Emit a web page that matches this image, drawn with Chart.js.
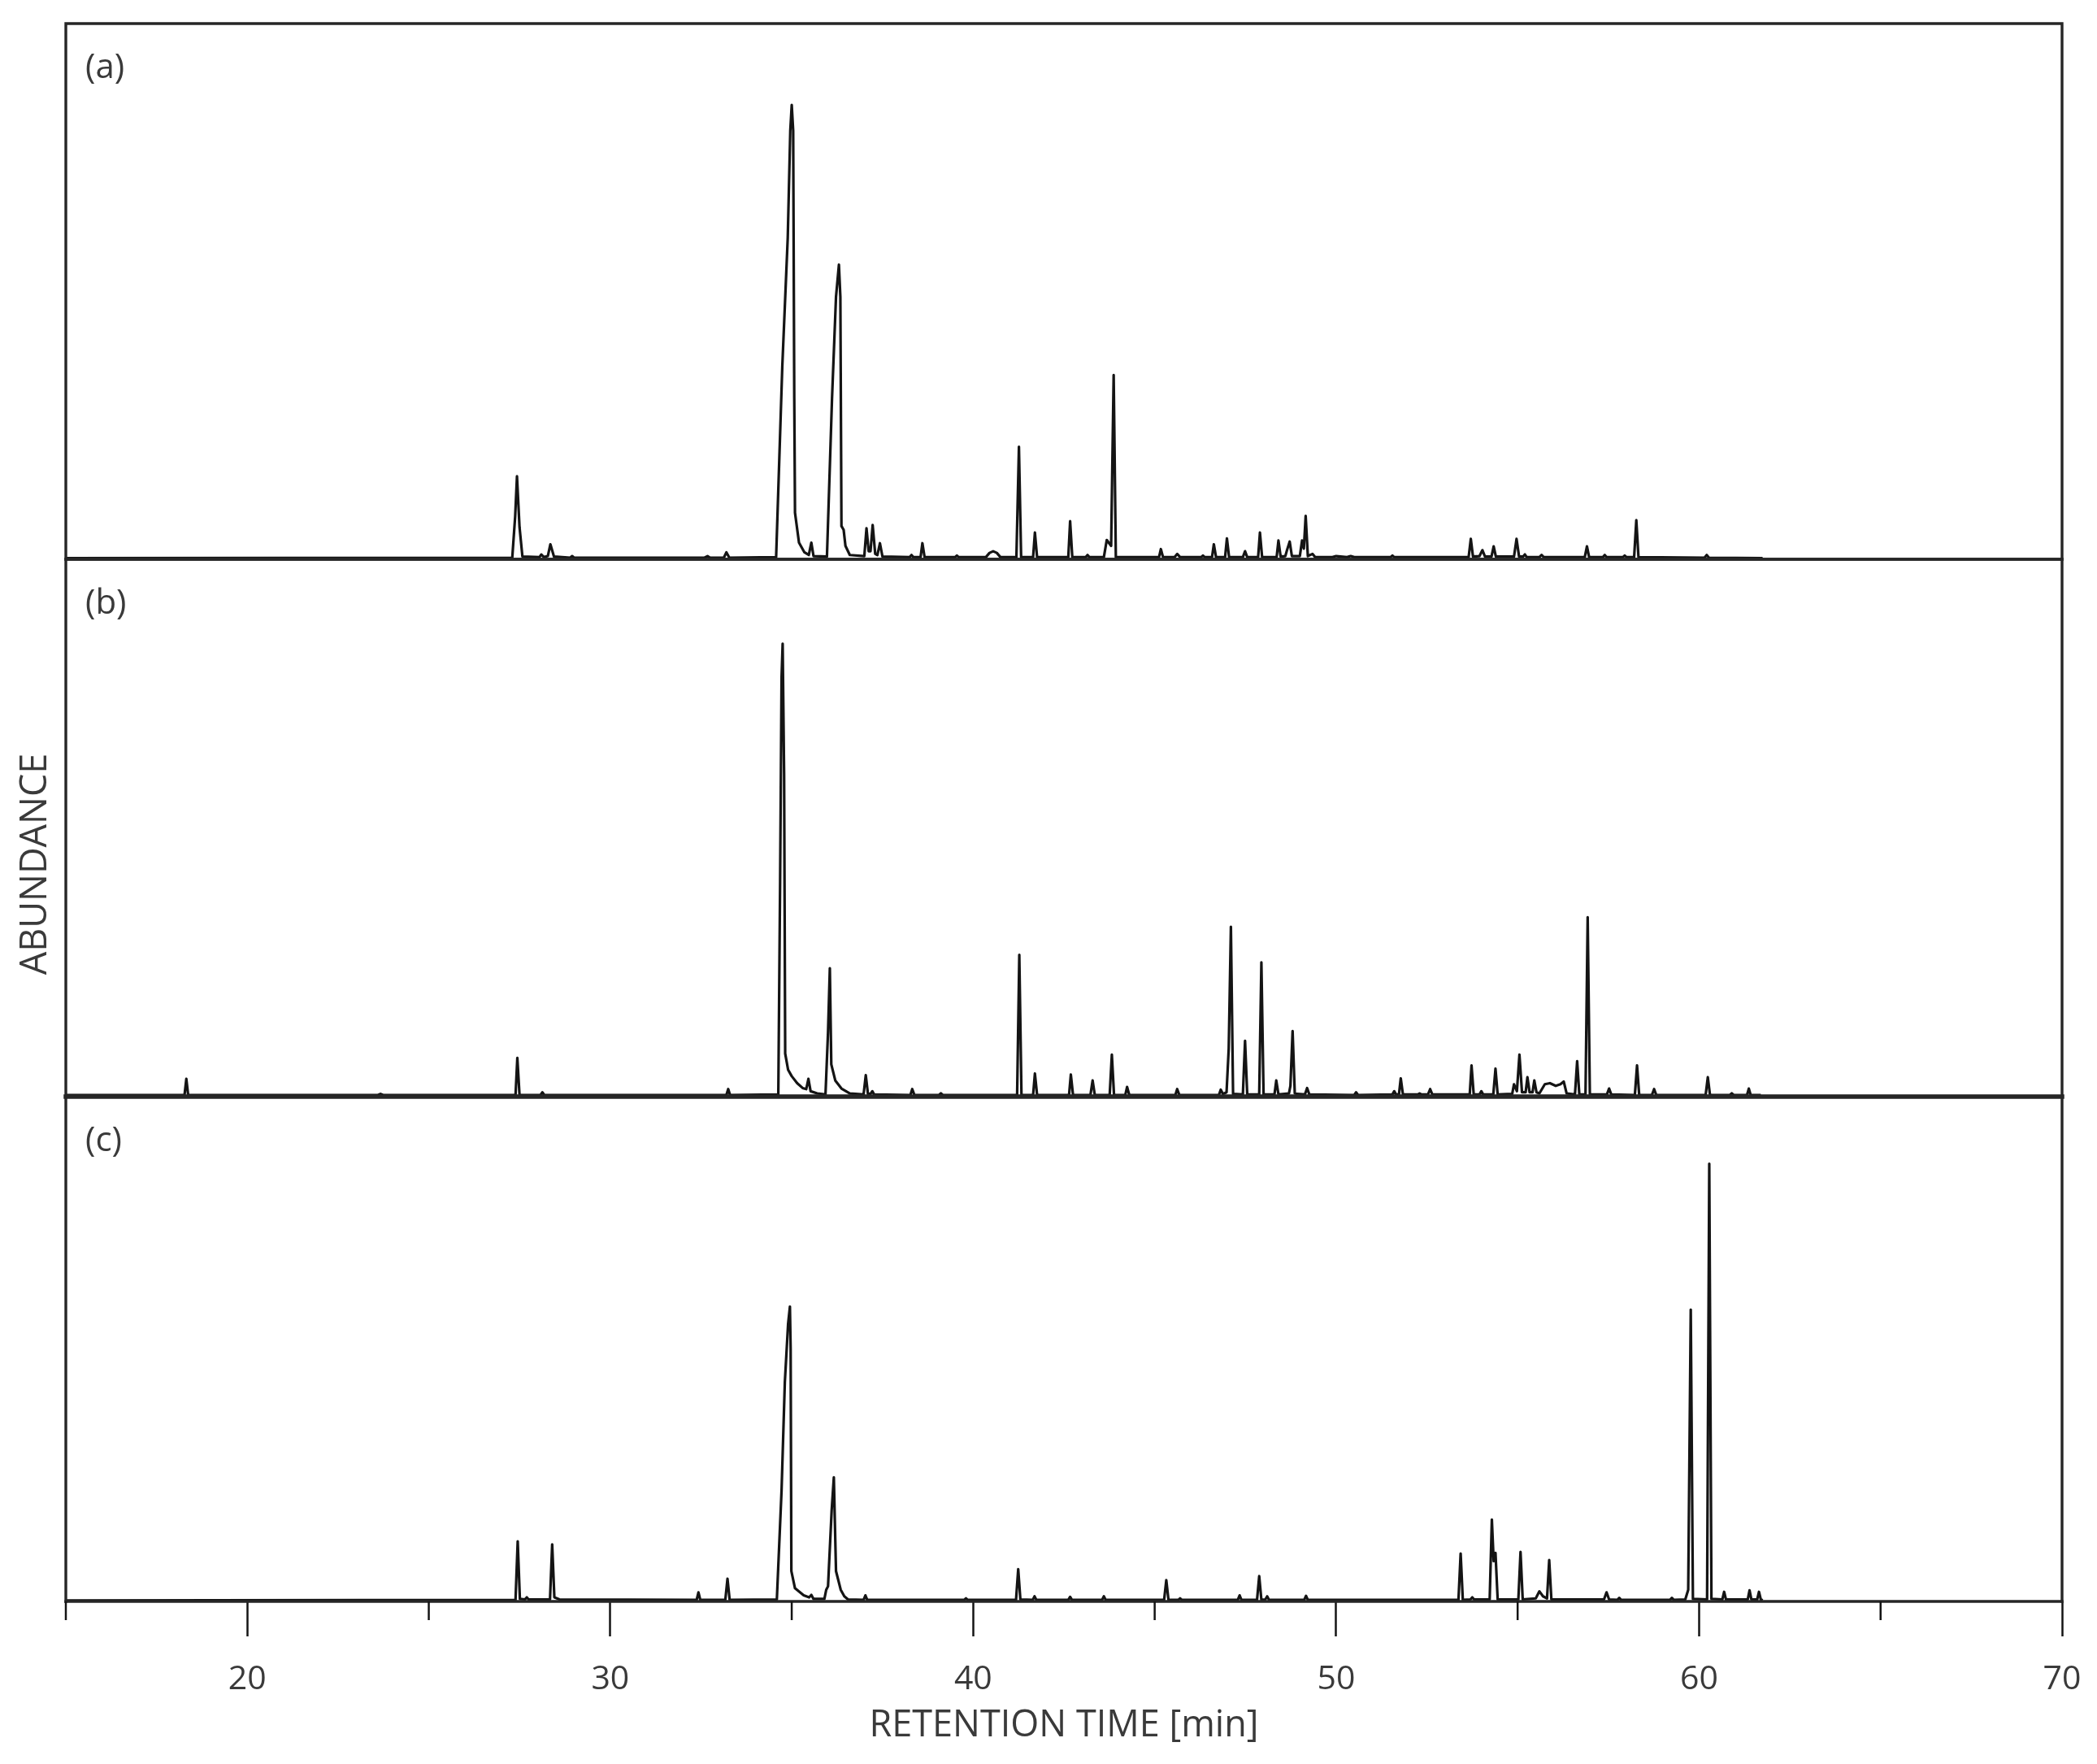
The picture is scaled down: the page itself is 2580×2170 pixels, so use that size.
<!DOCTYPE html>
<html>
<head>
<meta charset="utf-8">
<title>Chromatograms (a) (b) (c)</title>
<script src="https://cdn.jsdelivr.net/npm/chart.js@4.4.1/dist/chart.umd.min.js"></script>
<style>
  html, body { margin: 0; padding: 0; background: #fff; }
  #wrap { position: relative; width: 2580px; height: 2170px; }
  #wrap canvas { position: absolute; left: 0; top: 0; }
</style>
</head>
<body>
<div id="wrap">
  <canvas id="chartA" width="2580" height="2170"></canvas>
  <canvas id="chartB" width="2580" height="2170"></canvas>
  <canvas id="chartC" width="2580" height="2170"></canvas>
</div>
<script>
// Retention time [min] and abundance (% of panel height)

// (a)
const aTimes = [
  15.0,
  27.3, 27.38, 27.43, 27.5, 27.58,
  28.05, 28.1, 28.17, 28.28, 28.35, 28.45,
  28.9, 28.95, 29.0,
  32.6, 32.68, 32.75, 33.13, 33.2, 33.28,
  34.57, 34.74, 34.89, 34.96, 35.0, 35.04, 35.07, 35.09, 35.2, 35.35, 35.47, 35.54, 35.6,
  35.97, 36.11, 36.22, 36.3, 36.34, 36.37, 36.43, 36.48, 36.6,
  37.0, 37.06, 37.12, 37.17, 37.23, 37.3, 37.36, 37.43, 37.5,
  38.25, 38.3, 38.35, 38.55, 38.6, 38.66,
  39.5, 39.55, 39.6,
  40.35, 40.45, 40.55, 40.65, 40.75,
  41.19, 41.26, 41.32, 41.65, 41.7, 41.76,
  42.62, 42.67, 42.73, 43.1, 43.15, 43.2,
  43.6, 43.68, 43.8, 43.87, 43.93,
  45.12, 45.17, 45.23, 45.55, 45.62, 45.7,
  46.28, 46.33, 46.38, 46.58, 46.63, 46.69, 46.94, 46.99, 47.05,
  47.43, 47.49, 47.55, 47.85, 47.9, 47.96, 48.36, 48.41, 48.47,
  48.6, 48.65, 48.72, 48.78,
  49.0, 49.06, 49.11, 49.16, 49.22, 49.35, 49.42,
  49.9, 50.0, 50.3, 50.4, 50.5, 51.5, 51.55, 51.6,
  53.65, 53.71, 53.77, 53.95, 54.03, 54.1, 54.28, 54.34, 54.4,
  54.9, 54.97, 55.04, 55.15, 55.2, 55.25, 55.6, 55.66, 55.72,
  56.85, 56.91, 56.97, 57.35, 57.4, 57.45, 57.9, 57.95, 58.0,
  58.21, 58.27, 58.33, 60.15, 60.21, 60.27, 61.75
];
const aValues = [
  0.2,
  0.3, 8, 15.5, 6, 0.5,
  0.4, 0.9, 0.4, 0.6, 2.8, 0.5,
  0.3, 0.6, 0.3,
  0.3, 0.6, 0.3, 0.3, 1.3, 0.3,
  0.4, 36, 60, 80, 84.8, 80, 30, 8.7, 3.1, 1.3, 0.8, 3.1, 0.6,
  0.5, 30, 49, 55, 49, 6.2, 5.5, 2.5, 0.8,
  0.6, 5.8, 1.5, 1.5, 6.4, 1.0, 0.8, 3.0, 0.5,
  0.4, 0.8, 0.4, 0.4, 3.0, 0.4,
  0.4, 0.7, 0.4,
  0.4, 1.2, 1.5, 1.2, 0.4,
  0.4, 21.0, 0.4, 0.4, 5.0, 0.4,
  0.4, 7.1, 0.4, 0.4, 0.8, 0.4,
  0.4, 3.6, 2.5, 34.4, 0.4,
  0.4, 1.9, 0.4, 0.4, 1.0, 0.4,
  0.4, 0.7, 0.4, 0.4, 2.8, 0.4, 0.4, 3.9, 0.4,
  0.4, 1.5, 0.4, 0.4, 5.0, 0.4, 0.4, 3.5, 0.5,
  0.6, 1.8, 3.3, 0.6,
  0.6, 3.5, 2.0, 8.1, 0.6, 1.0, 0.4,
  0.4, 0.6, 0.4, 0.6, 0.4, 0.4, 0.7, 0.4,
  0.4, 3.8, 0.5, 0.6, 1.7, 0.5, 0.5, 2.4, 0.5,
  0.5, 3.8, 0.5, 0.5, 0.9, 0.4, 0.4, 0.8, 0.4,
  0.4, 2.4, 0.4, 0.4, 0.8, 0.4, 0.4, 0.7, 0.4,
  0.4, 7.3, 0.4, 0.3, 0.8, 0.3, 0.2
];

// (b)
const bTimes = [
  15.0,
  18.27, 18.32, 18.37, 23.6, 23.67, 23.74,
  27.39, 27.44, 27.5, 28.08, 28.13, 28.18,
  33.2, 33.25, 33.3,
  34.63, 34.68, 34.72, 34.75, 34.79, 34.82, 34.9, 35.0, 35.15, 35.3, 35.4, 35.46, 35.52, 35.7,
  35.93, 36.0, 36.05, 36.09, 36.2, 36.37, 36.6,
  36.98, 37.04, 37.1, 37.17, 37.22, 37.27,
  38.27, 38.32, 38.38, 39.06, 39.11, 39.16,
  41.21, 41.27, 41.33, 41.65, 41.7, 41.76,
  42.64, 42.69, 42.75, 43.23, 43.29, 43.35,
  43.76, 43.82, 43.88, 44.19, 44.24, 44.3,
  45.57, 45.62, 45.68,
  46.77, 46.82, 46.88, 46.98, 47.04, 47.1, 47.16,
  47.43, 47.49, 47.55, 47.88, 47.94, 48.0,
  48.3, 48.35, 48.41, 48.7, 48.74, 48.8, 48.86, 48.92,
  49.14, 49.2, 49.26, 50.5, 50.55, 50.6,
  51.55, 51.6, 51.65, 51.73, 51.78, 51.84,
  52.25, 52.3, 52.35, 52.53, 52.59, 52.65,
  53.68, 53.73, 53.79, 53.95, 54.0, 54.05, 54.33, 54.39, 54.45,
  54.85, 54.9, 54.98, 55.05, 55.12,
  55.22, 55.27, 55.33, 55.41, 55.46, 55.52,
  55.6, 55.75, 55.89, 56.05, 56.18, 56.27, 56.35,
  56.58, 56.64, 56.7, 56.87, 56.93, 56.99,
  57.46, 57.52, 57.58, 58.23, 58.29, 58.35, 58.7, 58.76, 58.82,
  60.18, 60.24, 60.3, 60.85, 60.9, 60.95, 61.32, 61.37, 61.42, 61.7
];
const bValues = [
  0.3,
  0.3, 3.3, 0.3, 0.3, 0.5, 0.3,
  0.3, 7.2, 0.3, 0.3, 0.8, 0.3,
  0.3, 1.4, 0.3,
  0.4, 40, 78, 84.3, 60, 8, 5, 3.8, 2.5, 1.6, 1.4, 3.3, 1.0, 0.6,
  0.4, 12, 23.9, 6, 3, 1.5, 0.6,
  0.4, 4.0, 0.5, 0.5, 1.0, 0.4,
  0.3, 1.4, 0.3, 0.3, 0.6, 0.3,
  0.3, 26.4, 0.3, 0.3, 4.3, 0.3,
  0.3, 4.1, 0.3, 0.3, 3.0, 0.3,
  0.3, 7.8, 0.3, 0.3, 1.8, 0.3,
  0.3, 1.4, 0.3,
  0.3, 1.3, 0.5, 0.8, 8.9, 31.6, 0.5,
  0.4, 10.4, 0.4, 0.4, 25.0, 0.4,
  0.4, 3.0, 0.4, 0.6, 2.0, 12.2, 0.6, 0.5,
  0.4, 1.6, 0.4, 0.3, 0.8, 0.3,
  0.4, 1.0, 0.4, 0.4, 3.4, 0.4,
  0.4, 0.6, 0.4, 0.4, 1.4, 0.4,
  0.4, 5.8, 0.4, 0.4, 1.0, 0.4, 0.4, 5.2, 0.4,
  0.5, 2.3, 1.0, 7.8, 0.8,
  0.8, 3.6, 0.8, 0.8, 3.0, 0.8,
  0.6, 2.3, 2.5, 2.0, 2.3, 2.8, 0.6,
  0.4, 6.6, 0.4, 0.4, 33.4, 0.4,
  0.4, 1.5, 0.4, 0.3, 5.8, 0.3, 0.3, 1.4, 0.3,
  0.3, 3.6, 0.3, 0.3, 0.6, 0.3, 0.3, 1.5, 0.3, 0.3
];

// (c)
const cTimes = [
  15.0,
  27.39, 27.45, 27.51, 27.65, 27.7, 27.75,
  28.34, 28.4, 28.46, 28.6,
  32.38, 32.43, 32.48, 33.17, 33.23, 33.29,
  34.59, 34.72, 34.81, 34.9, 34.95, 34.97, 34.99, 35.09, 35.33, 35.48, 35.54, 35.6,
  35.9, 35.95, 36.0, 36.1, 36.16, 36.22, 36.35, 36.45, 36.55,
  36.98, 37.03, 37.08, 39.75, 39.8, 39.85,
  41.18, 41.24, 41.3, 41.64, 41.69, 41.74,
  42.62, 42.67, 42.72, 43.55, 43.6, 43.65,
  45.26, 45.32, 45.38, 45.65, 45.7, 45.75,
  47.29, 47.34, 47.39, 47.82, 47.88, 47.94, 48.05, 48.1, 48.15,
  49.12, 49.17, 49.22,
  53.37, 53.43, 53.49, 53.7, 53.75, 53.8,
  54.23, 54.29, 54.34, 54.39, 54.45,
  55.02, 55.08, 55.14,
  55.5, 55.6, 55.7, 55.81, 55.87, 55.93,
  57.38, 57.45, 57.52, 57.75, 57.8, 57.85,
  59.2, 59.25, 59.3, 59.62, 59.7, 59.77, 59.83,
  60.22, 60.28, 60.34, 60.64, 60.69, 60.74,
  61.34, 61.39, 61.44, 61.6, 61.65, 61.7, 61.75
];
const cValues = [
  0.2,
  0.3, 11.9, 0.5, 0.4, 0.8, 0.4,
  0.4, 11.3, 0.8, 0.4,
  0.3, 1.8, 0.3, 0.3, 4.5, 0.3,
  0.4, 22, 43.4, 55, 58.4, 50, 6, 2.6, 1.2, 0.8, 1.3, 0.5,
  0.5, 2.3, 3.0, 18, 24.6, 6, 2.3, 1.0, 0.4,
  0.3, 1.2, 0.3, 0.3, 0.6, 0.3,
  0.3, 6.4, 0.4, 0.3, 1.0, 0.3,
  0.3, 0.9, 0.3, 0.3, 1.0, 0.3,
  0.3, 4.2, 0.3, 0.3, 0.6, 0.3,
  0.3, 1.2, 0.3, 0.3, 5.0, 0.3, 0.4, 1.0, 0.3,
  0.3, 1.1, 0.3,
  0.3, 9.5, 0.3, 0.4, 0.8, 0.4,
  0.4, 16.2, 8.0, 9.6, 0.4,
  0.4, 9.8, 0.4,
  0.6, 2.0, 1.0, 0.6, 8.2, 0.4,
  0.4, 1.8, 0.4, 0.3, 0.7, 0.3,
  0.3, 0.7, 0.3, 0.4, 2.3, 57.8, 0.5,
  0.4, 86.7, 0.5, 0.4, 1.9, 0.4,
  0.4, 2.2, 0.4, 0.4, 1.9, 0.4, 0.2
];

const panelLabels = ["(a)", "(b)", "(c)"];
const majorTicks = [20, 30, 40, 50, 60, 70];

const FONT = "'Open Sans', 'Liberation Sans', sans-serif";
const TEXT = "#3a3a3a";
const INK = "#141414";

// Frame round each panel, panel letter, y title and the short minor ticks
const framePlugin = {
  id: "frame",
  afterDatasetsDraw(chart, args, opts) {
    const ctx = chart.ctx;
    const a = chart.chartArea;
    ctx.save();
    ctx.strokeStyle = "#262626";
    ctx.lineCap = "square";
    ctx.lineWidth = 3.4;
    ctx.beginPath();
    ctx.moveTo(a.left, a.bottom);
    ctx.lineTo(a.left, a.top);
    ctx.lineTo(a.right, a.top);
    ctx.lineTo(a.right, a.bottom);
    ctx.stroke();
    ctx.lineWidth = opts.bottomWidth;
    ctx.beginPath();
    ctx.moveTo(a.left, a.bottom);
    ctx.lineTo(a.right, a.bottom);
    ctx.stroke();

    ctx.fillStyle = TEXT;
    ctx.font = "42px " + FONT;
    ctx.textAlign = "left";
    ctx.textBaseline = "middle";
    ctx.fillText(opts.label, a.left + 24, a.top + 55);

    if (opts.minorTicks) {
      const xs = chart.scales.x;
      ctx.strokeStyle = INK;
      ctx.lineWidth = 2.5;
      ctx.lineCap = "butt";
      xs.ticks.forEach(t => {
        if (majorTicks.includes(t.value)) return;
        const px = xs.getPixelForValue(t.value);
        ctx.beginPath();
        ctx.moveTo(px, a.bottom);
        ctx.lineTo(px, a.bottom + 23);
        ctx.stroke();
      });
    }

    if (opts.yTitle) {
      ctx.translate(a.left - 37, a.top + 375);
      ctx.rotate(-Math.PI / 2);
      ctx.textAlign = "center";
      ctx.font = "45px " + FONT;
      ctx.fillText(opts.yTitle, 0, 0);
    }
    ctx.restore();
  }
};

function makeChart(id, times, values, top, bottom, extra) {
  const withAxis = !!extra.axis;
  const xScale = {
    type: "linear",
    min: 15,
    max: 70,
    display: withAxis
  };
  if (withAxis) {
    Object.assign(xScale, {
      border: { display: false },
      grid: {
        drawOnChartArea: false,
        drawTicks: true,
        tickLength: 43,
        tickWidth: 2.5,
        tickColor: c => (c.tick && majorTicks.includes(c.tick.value)) ? INK : "rgba(0,0,0,0)"
      },
      ticks: {
        stepSize: 5,
        autoSkip: false,
        maxRotation: 0,
        padding: 29,
        color: TEXT,
        font: { family: FONT, size: 41 },
        callback: v => majorTicks.includes(v) ? String(v) : ""
      },
      title: {
        display: true,
        text: "RETENTION TIME [min]",
        color: TEXT,
        font: { family: FONT, size: 45 },
        padding: { top: 0, bottom: 20 }
      },
      // fixed axis height, and no extra side room for the end labels
      afterFit: s => {
        s.height = 2170 - bottom;
        s.paddingLeft = 0;
        s.paddingRight = 0;
      }
    });
  }

  return new Chart(document.getElementById(id), {
    type: "line",
    data: {
      datasets: [{
        data: times.map((t, i) => ({ x: t, y: values[i] })),
        borderColor: INK,
        borderWidth: 3.2,
        borderJoinStyle: "round",
        pointRadius: 0,
        tension: 0,
        fill: false
      }]
    },
    options: {
      responsive: false,
      animation: false,
      events: [],
      layout: {
        autoPadding: false,
        padding: { left: 81, right: 43, top: top, bottom: withAxis ? 0 : 2170 - bottom }
      },
      plugins: {
        legend: { display: false },
        tooltip: { enabled: false },
        frame: {
          label: extra.label,
          bottomWidth: extra.bottomWidth || 3.4,
          minorTicks: withAxis,
          yTitle: extra.yTitle || null
        }
      },
      scales: {
        x: xScale,
        y: { min: 0, max: 100, display: false }
      }
    },
    plugins: [framePlugin]
  });
}

makeChart("chartA", aTimes, aValues, 29, 688, { label: panelLabels[0] });
makeChart("chartB", bTimes, bValues, 688, 1349, { label: panelLabels[1], bottomWidth: 5.5, yTitle: "ABUNDANCE" });
makeChart("chartC", cTimes, cValues, 1349, 1970, { label: panelLabels[2], axis: true });
</script>
</body>
</html>
